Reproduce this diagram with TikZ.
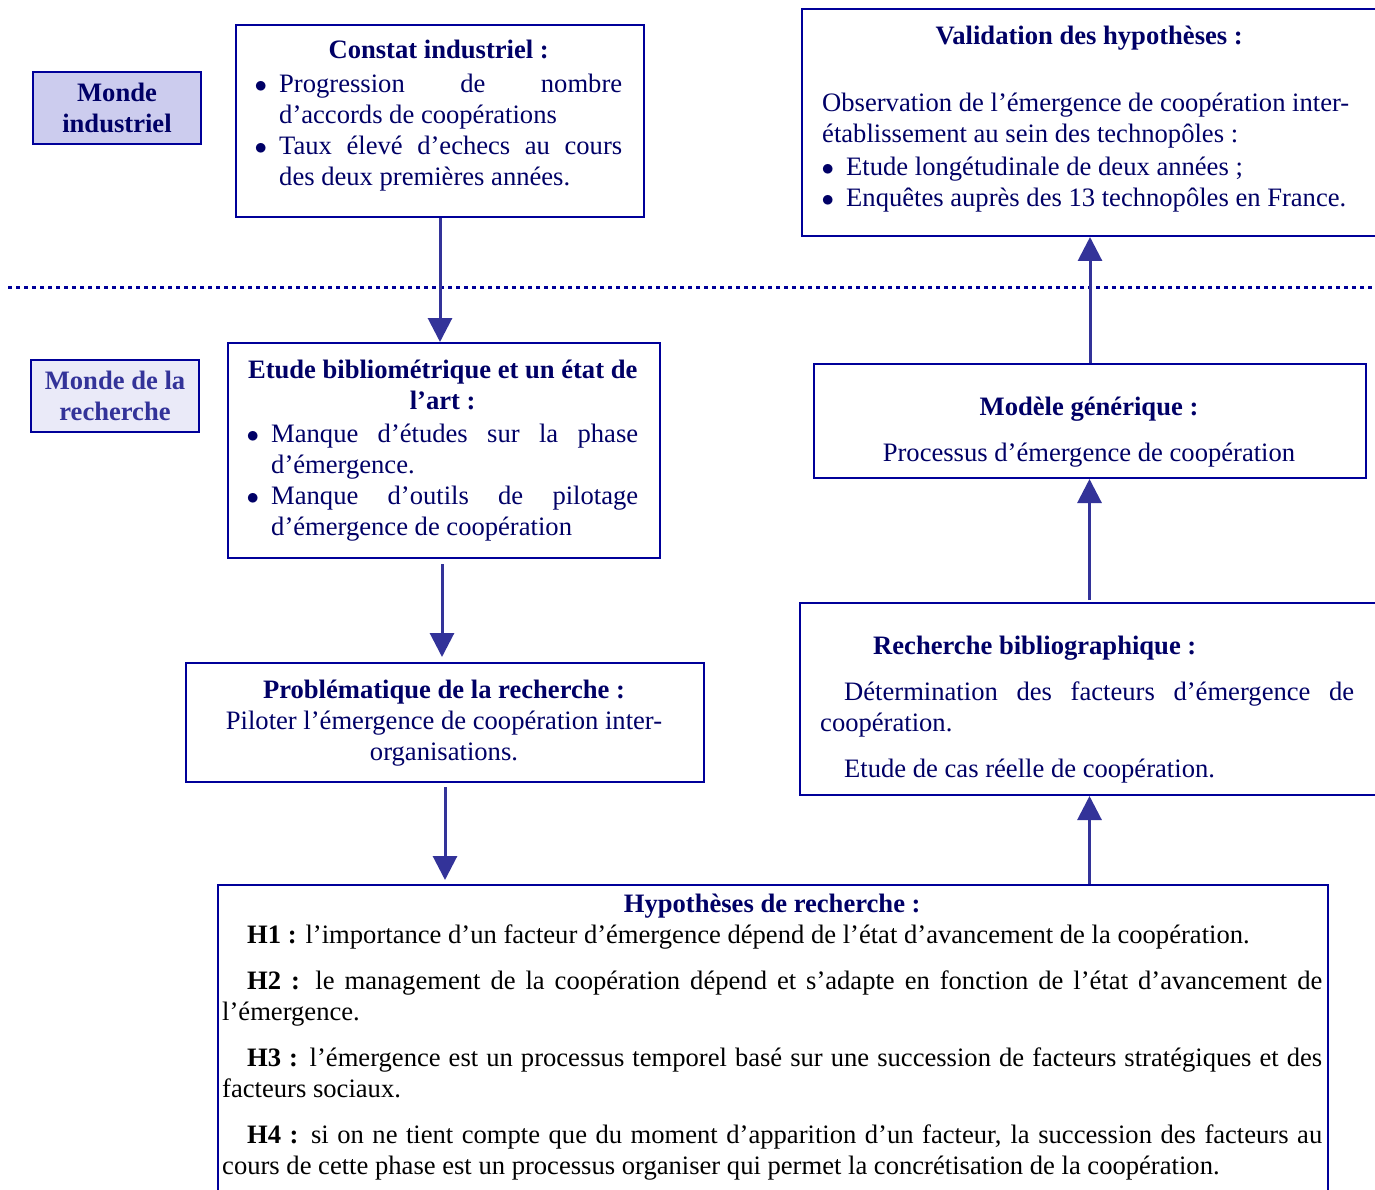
\documentclass[tikz,border=0pt]{standalone}
\usepackage{fontspec}
\setmainfont{Liberation Serif}
\usepackage{tikz}
\usetikzlibrary{positioning,arrows.meta,calc}
\usepackage{xcolor}
\definecolor{navy}{RGB}{0,0,102}
\definecolor{cadre}{RGB}{0,0,153}
\definecolor{fleche}{RGB}{51,51,153}
\definecolor{fondind}{RGB}{204,204,238}
\definecolor{fondrech}{RGB}{234,234,248}
\newcommand{\puce}{\par\hangindent=24pt\hangafter=1\noindent\hbox to 24pt{\hskip-0.6pt$\bullet$\hfil}}
\hyphenpenalty=10000
\tolerance=10000

\begin{document}
\begin{tikzpicture}[x=1pt,y=-1pt,
  every node/.style={font=\fontsize{26.6}{31}\selectfont},
  cadrebox/.style={draw=cadre,line width=2pt,inner sep=0pt,anchor=north west},
  texte/.style={inner sep=0pt,anchor=base west,text=navy,align=justify},
  monde/.style={draw=cadre,line width=2pt,minimum width=168pt,minimum height=72pt,align=center,
    font=\fontsize{26.6}{31}\selectfont\bfseries},
  fl/.style={draw=fleche,line width=3pt,-{Triangle[width=24pt,length=24pt]}}]
\useasboundingbox (0,0) rectangle (1375,1190);
\clip (0,0) rectangle (1375,1190);

\node[monde,fill=fondind,text=navy] (mind) at (117,108) {Monde\\industriel};
\node[monde,fill=fondrech,text=fleche] (mrech) at (115,396) {Monde de la\\recherche};

\coordinate (sepg) at (8,287);
\coordinate (sepd) at (1375,287);
\draw[cadre,line width=3pt,dash pattern=on 3.5pt off 4.5pt] (sepg) -- (sepd);

\node[cadrebox,minimum width=408pt,minimum height=192pt] (constat) at (235,24) {};
\node[texte,text width=367pt] (constat-t) at ([shift={(20,35)}]constat.north west)
  {{\centering\bfseries Constat industriel :\par}\vspace{3pt}
   \puce Progression de nombre\linebreak d’accords de coopérations
   \puce Taux élevé d’echecs au cours\linebreak des deux premières années.\par};

\node[cadrebox,minimum width=432pt,minimum height=215pt] (etude) at (227,342) {};
\node[texte,text width=391pt] (etude-t) at ([shift={(20,36)}]etude.north west)
  {{\centering\bfseries Etude bibliométrique et un état de\\ l’art :\par}\vspace{2pt}
   \puce Manque d’études sur la phase\linebreak d’émergence.
   \puce Manque d’outils de pilotage\linebreak d’émergence de coopération\par};

\node[cadrebox,minimum width=518pt,minimum height=119pt] (prob) at (185,662) {};
\node[texte,anchor=base,text width=478pt] (prob-t) at ([shift={(259,36)}]prob.north west)
  {{\centering\textbf{Problématique de la recherche :}\\ Piloter l’émergence de coopération inter-\\ organisations.\par}};

\node[cadrebox,minimum width=577pt,minimum height=227pt] (valid) at (801,8) {};
\node[texte,text width=534pt] (valid-t) at ([shift={(21,37)}]valid.north west)
  {{\centering\bfseries Validation des hypothèses :\par}\vspace{36pt}
   Observation de l’émergence de coopération inter-\\ établissement au sein des technopôles :\par\vspace{2pt}
   \puce Etude longétudinale de deux années ;
   \puce Enquêtes auprès des 13 technopôles en France.\par};

\node[cadrebox,minimum width=552pt,minimum height=114pt] (mod) at (813,363) {};
\node[texte,anchor=base,text width=512pt] (mod-t) at ([shift={(276,52)}]mod.north west)
  {{\centering\textbf{Modèle générique :}\par\vspace{15pt}Processus d’émergence de coopération\par}};

\node[cadrebox,minimum width=579pt,minimum height=192pt] (rech) at (799,602) {};
\node[texte,text width=534pt] (rech-t) at ([shift={(21,52)}]rech.north west)
  {\hspace*{53pt}\textbf{Recherche bibliographique :}\par\vspace{15pt}
   \hspace*{24pt}Détermination des facteurs d’émergence de\linebreak coopération.\par\vspace{15pt}
   \hspace*{24pt}Etude de cas réelle de coopération.\par};

\node[cadrebox,minimum width=1110pt,minimum height=320pt] (hyp) at (217,884) {};
\node[texte,text width=1100pt,text=black] (hyp-t) at ([shift={(5,28)}]hyp.north west)
  {{\centering\bfseries\color{navy}Hypothèses de recherche :\par}
   \hspace*{25pt}\textbf{H1 :} l’importance d’un facteur d’émergence dépend de l’état d’avancement de la coopération.\par\vspace{15pt}
   \hspace*{25pt}\textbf{H2 :} le management de la coopération dépend et s’adapte en fonction de l’état d’avancement de\linebreak l’émergence.\par\vspace{15pt}
   \hspace*{25pt}\textbf{H3 :} l’émergence est un processus temporel basé sur une succession de facteurs stratégiques et des\linebreak facteurs sociaux.\par\vspace{15pt}
   \hspace*{25pt}\textbf{H4 :} si on ne tient compte que du moment d’apparition d’un facteur, la succession des facteurs au\linebreak cours de cette phase est un processus organiser qui permet la concrétisation de la coopération.\par};

\draw[fl] (constat.south) -- (constat.south |- etude.north);
\draw[fl] ([xshift=-2pt,yshift=-5pt]etude.south) -- ([xshift=-2pt,yshift=5pt]etude.south |- prob.north);
\draw[fl] ([yshift=-4pt]prob.south) -- ([yshift=4pt]prob.south |- hyp.north);
\draw[fl] (rech.south |- hyp.north) -- (rech.south);
\draw[fl] ([yshift=2pt]rech.north) -- (rech.north |- mod.south);
\draw[fl] (mod.north) -- (mod.north |- valid.south);
\end{tikzpicture}
\end{document}
